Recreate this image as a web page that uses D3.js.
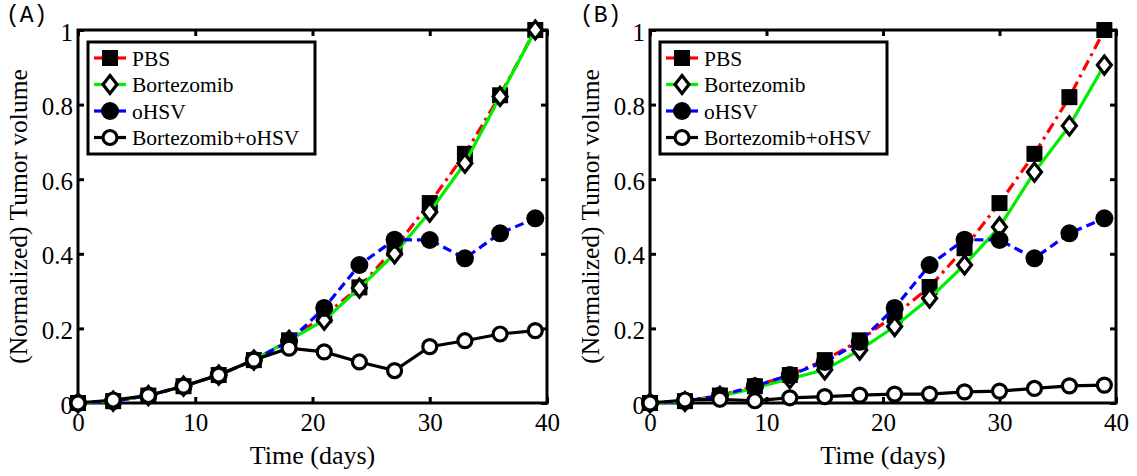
<!DOCTYPE html>
<html>
<head>
<meta charset="utf-8">
<script src="https://cdn.jsdelivr.net/npm/d3@7"></script>
<style>
  body { margin: 0; background: #fff; }
  svg { display: block; }
  text { font-family: "Liberation Serif", "Times New Roman", serif; fill: #000; }
  text.tag { font-family: "Liberation Mono", monospace; }
</style>
</head>
<body>
<div id="container"></div>
<script>
let w = 1137;
let h = 476;

// time points (days)
let days = [0, 3, 6, 9, 12, 15, 18, 21, 24, 27, 30, 33, 36, 39];

// panel A
let pbsA   = [0, 0.005, 0.02, 0.045, 0.075, 0.115, 0.168, 0.235, 0.31, 0.415, 0.536, 0.668, 0.825, 1.0];
let bortA  = [0, 0.005, 0.02, 0.045, 0.075, 0.115, 0.168, 0.222, 0.308, 0.40, 0.512, 0.643, 0.822, 1.0];
let ohsvA  = [0, 0.005, 0.02, 0.045, 0.075, 0.115, 0.165, 0.255, 0.37, 0.438, 0.437, 0.388, 0.455, 0.495];
let comboA = [0, 0.008, 0.02, 0.045, 0.075, 0.115, 0.147, 0.137, 0.11, 0.087, 0.151, 0.167, 0.185, 0.194];

// panel B
let pbsB   = [0, 0.005, 0.02, 0.045, 0.075, 0.115, 0.168, 0.235, 0.311, 0.415, 0.536, 0.668, 0.82, 1.0];
let bortB  = [0, 0.004, 0.018, 0.04, 0.065, 0.089, 0.142, 0.205, 0.281, 0.37, 0.472, 0.619, 0.743, 0.906];
let ohsvB  = [0, 0.005, 0.02, 0.045, 0.075, 0.11, 0.164, 0.255, 0.37, 0.438, 0.437, 0.388, 0.455, 0.495];
let comboB = [0, 0.008, 0.01, 0.006, 0.014, 0.017, 0.021, 0.024, 0.024, 0.030, 0.032, 0.039, 0.046, 0.048];

let seriesNames = ["PBS", "Bortezomib", "oHSV", "Bortezomib+oHSV"];
let xTicks = [0, 10, 20, 30, 40];
let yTicks = [0, 0.2, 0.4, 0.6, 0.8, 1];
let yTickLabels = ["0", "0.2", "0.4", "0.6", "0.8", "1"];

let styles = [
  { color: "#ff0000", dash: "11,5,3,5", marker: "square" },
  { color: "#00ee00", dash: null, marker: "diamond" },
  { color: "#0000ff", dash: "9,5", marker: "dot" },
  { color: "#000000", dash: null, marker: "ring" }
];

let viz = d3.select("#container")
  .append("svg")
  .attr("width", w)
  .attr("height", h);

function drawMarker(g, type, cx, cy) {
  if (type === "square") {
    g.append("rect")
      .attr("x", cx - 8).attr("y", cy - 8)
      .attr("width", 16).attr("height", 16)
      .attr("fill", "#000");
  } else if (type === "diamond") {
    g.append("path")
      .attr("d", `M${cx},${cy - 9}L${cx + 7},${cy}L${cx},${cy + 9}L${cx - 7},${cy}Z`)
      .attr("fill", "#fff")
      .attr("stroke", "#000")
      .attr("stroke-width", 3.2)
      .attr("stroke-linejoin", "miter");
  } else if (type === "dot") {
    g.append("circle")
      .attr("cx", cx).attr("cy", cy).attr("r", 9)
      .attr("fill", "#000");
  } else {
    g.append("circle")
      .attr("cx", cx).attr("cy", cy).attr("r", 7)
      .attr("fill", "#fff")
      .attr("stroke", "#000")
      .attr("stroke-width", 3.2);
  }
}

function drawPanel(left, right, top, bottom, data, tag, tagX, labelX) {
  let x = d3.scaleLinear().domain([0, 40]).range([left, right]);
  let y = d3.scaleLinear().domain([0, 1]).range([bottom, top]);
  let g = viz.append("g");

  // axes, ticks pointing inward
  g.append("g")
    .attr("transform", `translate(0,${bottom})`)
    .call(d3.axisBottom(x).tickValues(xTicks).tickSizeInner(-6).tickSizeOuter(0).tickPadding(10))
    .call(a => a.select(".domain").remove())
    .call(a => a.selectAll("line").attr("stroke-width", 3))
    .call(a => a.selectAll("text").attr("font-size", 25));

  g.append("g")
    .attr("transform", `translate(0,${top})`)
    .call(d3.axisTop(x).tickValues(xTicks).tickSizeInner(-6).tickSizeOuter(0).tickFormat(""))
    .call(a => a.select(".domain").remove())
    .call(a => a.selectAll("line").attr("stroke-width", 3));

  g.append("g")
    .attr("transform", `translate(${left},0)`)
    .call(d3.axisLeft(y).tickValues(yTicks).tickSizeInner(-6).tickSizeOuter(0).tickPadding(5)
      .tickFormat((d, i) => yTickLabels[i]))
    .call(a => a.select(".domain").remove())
    .call(a => a.selectAll("line").attr("stroke-width", 3))
    .call(a => a.selectAll("text").attr("font-size", 25).attr("dy", "0.4em"));

  g.append("g")
    .attr("transform", `translate(${right},0)`)
    .call(d3.axisRight(y).tickValues(yTicks).tickSizeInner(-6).tickSizeOuter(0).tickFormat(""))
    .call(a => a.select(".domain").remove())
    .call(a => a.selectAll("line").attr("stroke-width", 3));

  g.append("rect")
    .attr("x", left).attr("y", top)
    .attr("width", right - left).attr("height", bottom - top)
    .attr("fill", "none")
    .attr("stroke", "#000")
    .attr("stroke-width", 3);

  // series
  let line = d3.line()
    .x((d, i) => x(days[i]))
    .y(d => y(d));

  data.forEach((vals, k) => {
    let s = styles[k];
    let sg = g.append("g");
    sg.append("path")
      .attr("d", line(vals))
      .attr("fill", "none")
      .attr("stroke", s.color)
      .attr("stroke-width", 3.2)
      .attr("stroke-dasharray", s.dash);
    vals.forEach((v, i) => drawMarker(sg, s.marker, x(days[i]), y(v)));
  });

  // legend
  let lx = left + 10, ly = top + 12;
  let lg = g.append("g");
  lg.append("rect")
    .attr("x", lx).attr("y", ly)
    .attr("width", 227).attr("height", 112)
    .attr("fill", "#fff")
    .attr("stroke", "#000")
    .attr("stroke-width", 3);
  seriesNames.forEach((name, k) => {
    let s = styles[k];
    let cy = ly + 16 + k * 26.5;
    lg.append("line")
      .attr("x1", lx + 6).attr("x2", lx + 38)
      .attr("y1", cy).attr("y2", cy)
      .attr("stroke", s.color)
      .attr("stroke-width", 3.2);
    drawMarker(lg, s.marker, lx + 22, cy);
    lg.append("text")
      .attr("x", lx + 44)
      .attr("y", cy + 7.5)
      .attr("font-size", 21.5)
      .text(name);
  });

  // axis labels
  g.append("text")
    .attr("x", (left + right) / 2)
    .attr("y", 464)
    .attr("text-anchor", "middle")
    .attr("font-size", 26)
    .text("Time (days)");

  g.append("text")
    .attr("transform", `translate(${labelX},${(top + bottom) / 2}) rotate(-90)`)
    .attr("text-anchor", "middle")
    .attr("font-size", 25.5)
    .text("(Normalized) Tumor volume");

  g.append("text")
    .attr("class", "tag")
    .attr("x", tagX)
    .attr("y", 22)
    .attr("font-size", 23)
    .text(tag);
}

drawPanel(78, 547, 30, 403, [pbsA, bortA, ohsvA, comboA], "(A)", 6, 27);
drawPanel(650, 1116, 30, 403, [pbsB, bortB, ohsvB, comboB], "(B)", 580, 599);
</script>
</body>
</html>
